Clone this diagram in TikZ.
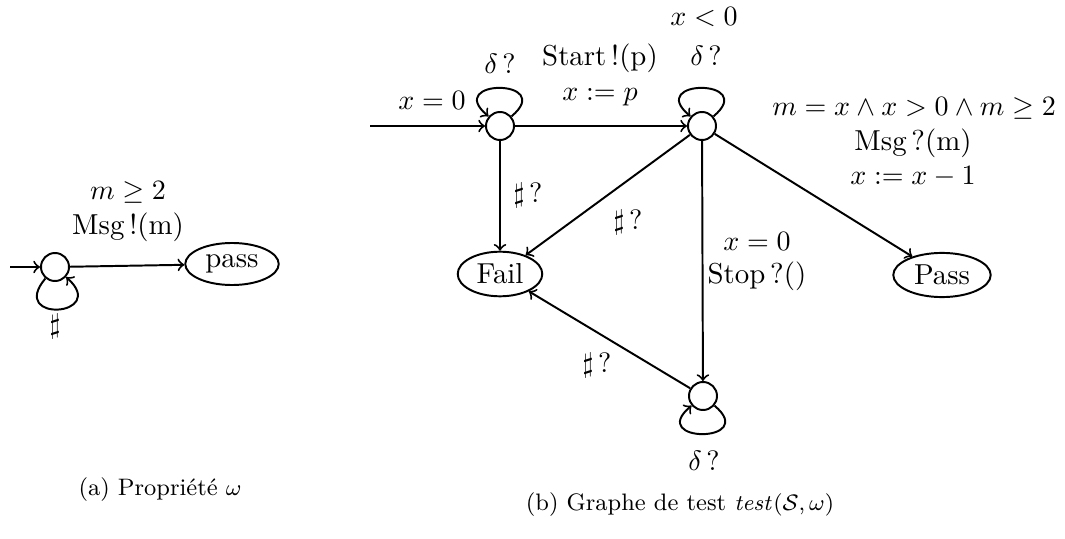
\documentclass[tikz,border=0pt]{standalone}
\usetikzlibrary{shapes.geometric}
\begin{document}
\begin{tikzpicture}[x=0.357pt,y=-0.357pt,line width=0.7pt,>=to,
  every node/.style={font=\fontsize{10.3}{12.4}\selectfont},
  state/.style={circle,draw,minimum size=10pt,inner sep=0pt},
  final/.style={ellipse,draw,inner xsep=2.3pt,inner ysep=2pt},
  lbl/.style={inner sep=0pt},
  captext/.style={font=\fontsize{8.5}{10}\selectfont,inner sep=0pt}]
\useasboundingbox (0,0) rectangle (1065,539);
% ---- (a) ----
\coordinate (ain) at (10,267);
\node[state] (a0) at (55,267) {};
\node[final] (pass) at (232,264) {pass};
\draw[->] (ain) -- (a0);
\draw[->] (a0) -- (pass);
\draw[->] (a0) to[out=-130,in=-42,min distance=21pt] (a0);
\node[lbl] (la1) at (128,192) {$m\geq 2$};
\node[lbl] (la2) at (128,227) {Msg\,!(m)};
\node[lbl] (la3) at (55,326) {$\sharp$};
\node[captext] (capa) at (160,490) {(a) Propriété $\omega$};
% ---- (b) ----
\coordinate (bin) at (370,126);
\node[state] (q0) at (500,126) {};
\node[state] (q1) at (702,126) {};
\node[state] (q2) at (703,396) {};
\node[final] (fail) at (500,274) {Fail};
\node[final] (Pass) at (942,275) {Pass};
\draw[->] (bin) -- (q0);
\draw[->] (q0) -- (q1);
\draw[->] (q0) -- (fail);
\draw[->] (q1) -- (fail);
\draw[->] (q1) -- (q2);
\draw[->] (q1) -- (Pass);
\draw[->] (q2) -- (fail);
\draw[->] (q0) to[out=40,in=140,min distance=21pt] (q0);
\draw[->] (q1) to[out=40,in=140,min distance=21pt] (q1);
\draw[->] (q2) to[out=-40,in=-140,min distance=21pt] (q2);
\node[lbl] (l1) at (432,100) {$x=0$};
\node[lbl] (l2) at (500,64) {$\delta\,?$};
\node[lbl] (l3) at (600,58) {Start\,!(p)};
\node[lbl] (l4) at (600,97) {$x:=p$};
\node[lbl] (l5) at (704,17) {$x<0$};
\node[lbl] (l6) at (706,56) {$\delta\,?$};
\node[lbl] (l7) at (914,108) {$m=x\wedge x>0\wedge m\geq 2$};
\node[lbl] (l8) at (913,143) {Msg\,?(m)};
\node[lbl] (l9) at (913,177) {$x:=x-1$};
\node[lbl] (l10) at (528,195) {$\sharp\,?$};
\node[lbl] (l11) at (628,222) {$\sharp\,?$};
\node[lbl] (l12) at (757,241) {$x=0$};
\node[lbl] (l13) at (757,276) {Stop\,?()};
\node[lbl] (l14) at (597,365) {$\sharp\,?$};
\node[lbl] (l15) at (704,461) {$\delta\,?$};
\node[captext] (capb) at (680,505) {(b) Graphe de test $\mathit{test}(\mathcal{S},\omega)$};
\end{tikzpicture}
\end{document}
